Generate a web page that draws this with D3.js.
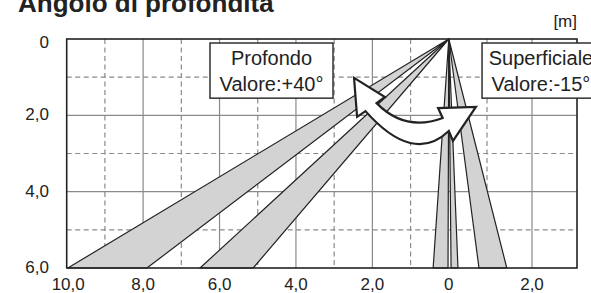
<!DOCTYPE html>
<html>
<head>
<meta charset="utf-8">
<script src="https://cdn.jsdelivr.net/npm/d3@7"></script>
<style>
  html, body { margin: 0; padding: 0; background: #fff; }
  svg { display: block; font-family: "Liberation Sans", Arial, sans-serif; }
</style>
</head>
<body>
<script>
// ---- data ----
const title = "Angolo di profondità";
const unitLabel = "[m]";
const xTickValues = [-10, -8, -6, -4, -2, 0, 2];
const xTickLabels = ["10,0", "8,0", "6,0", "4,0", "2,0", "0", "2,0"];
const yTickValues = [0, 2, 4, 6];
const yTickLabels = ["0", "2,0", "4,0", "6,0"];
const xGrid = [-9, -8, -7, -6, -5, -4, -3, -2, -1, 1, 2];
const yGrid = [1, 2, 3, 4, 5];
const beamDepth = 6;
// beam edges (horizontal distance in m at 6 m depth), apex at (0,0)
const beamsDeep = [[-9.97, -7.90], [-6.51, -5.12]];
const beamsShallow = [[-0.41, -0.02], [0.06, 0.24], [0.79, 1.44]];
const boxDeep = { x0: -6.25, x1: -3.03, y0: 0.105, y1: 1.55, lines: ["Profondo", "Valore:+40°"] };
const boxShallow = { x0: 0.87, x1: 3.51, y0: 0.105, y1: 1.55, lines: ["Superficiale", "Valore:-15°"] };
// curved double arrow outline (m)
const arrowTipL = [-2.48, 1.02], arrowBaseLOut = [-2.40, 2.04], arrowBaseLIn = [-1.67, 1.52];
const arrowNotchLIn = [-1.89, 1.68], arrowNotchLOut = [-2.18, 1.89];
const arrowCtrlIn = [-1.14, 2.44], arrowCtrlOut = [-0.93, 3.30];
const arrowNotchRIn = [-0.16, 2.07], arrowNotchROut = [0.00, 2.41];
const arrowBaseRIn = [-0.28, 1.81], arrowBaseROut = [0.11, 2.67], arrowTipR = [0.71, 1.78];

// ---- layout ----
const W = 591, H = 293;
const svg = d3.select("body").append("svg").attr("width", W).attr("height", H);

const x = d3.scaleLinear().domain([-10, 1, 3]).range([66.7, 487, 577]);
const y = d3.scaleLinear().domain([0, 6]).range([39, 268]);

const gridColor = "#8a8a8a";
const ink = "#222";

// grid
svg.append("g").selectAll("line").data(xGrid).join("line")
  .attr("x1", d => x(d)).attr("x2", d => x(d))
  .attr("y1", y(0)).attr("y2", y(6))
  .attr("stroke", gridColor).attr("stroke-width", 1.2)
  .attr("stroke-dasharray", d => (Math.abs(d) % 2 === 1 ? "5,3.5" : null));
svg.append("g").selectAll("line").data(yGrid).join("line")
  .attr("y1", d => y(d)).attr("y2", d => y(d))
  .attr("x1", x(-10)).attr("x2", x(3))
  .attr("stroke", gridColor).attr("stroke-width", 1.2)
  .attr("stroke-dasharray", d => (d % 2 === 1 ? "5,3.5" : null));

// beams
const beamPoly = b => [[x(0), y(0)], [x(b[0]), y(beamDepth)], [x(b[1]), y(beamDepth)]];
svg.append("g").selectAll("path").data(beamsDeep.concat(beamsShallow)).join("path")
  .attr("d", b => "M" + beamPoly(b).join("L") + "Z")
  .attr("fill", "#d3d3d3").attr("stroke", ink).attr("stroke-width", 1.2)
  .attr("stroke-linejoin", "round");

// frame
svg.append("rect")
  .attr("x", x(-10)).attr("y", y(0))
  .attr("width", x(3) - x(-10)).attr("height", y(6) - y(0))
  .attr("fill", "none").attr("stroke", ink).attr("stroke-width", 1.6);

// boxes
[boxDeep, boxShallow].forEach(b => {
  const g = svg.append("g");
  g.append("rect")
    .attr("x", x(b.x0)).attr("y", y(b.y0))
    .attr("width", x(b.x1) - x(b.x0)).attr("height", y(b.y1) - y(b.y0))
    .attr("fill", "#fff").attr("stroke", ink).attr("stroke-width", 1.4);
  const cx = (x(b.x0) + x(b.x1)) / 2;
  g.selectAll("text").data(b.lines).join("text")
    .attr("x", cx).attr("y", (d, i) => y(b.y0) + 22 + i * 26)
    .attr("text-anchor", "middle").attr("font-size", 20).attr("fill", ink)
    .text(d => d);
});

// arrow
const P = p => x(p[0]) + "," + y(p[1]);
const arrowD = "M" + P(arrowTipL) + "L" + P(arrowBaseLIn) + "L" + P(arrowNotchLIn) +
  "Q" + P(arrowCtrlIn) + " " + P(arrowNotchRIn) +
  "L" + P(arrowBaseRIn) + "L" + P(arrowTipR) + "L" + P(arrowBaseROut) + "L" + P(arrowNotchROut) +
  "Q" + P(arrowCtrlOut) + " " + P(arrowNotchLOut) +
  "L" + P(arrowBaseLOut) + "Z";
svg.append("path").attr("d", arrowD)
  .attr("fill", "#fff").attr("stroke", ink).attr("stroke-width", 2.2)
  .attr("stroke-linejoin", "miter");

// axis labels
svg.append("g").selectAll("text").data(xTickValues).join("text")
  .attr("x", d => x(d) + (d === -10 ? 1.5 : 0)).attr("y", 290)
  .attr("text-anchor", "middle").attr("font-size", 17).attr("fill", ink)
  .text((d, i) => xTickLabels[i]);
svg.append("g").selectAll("text").data(yTickValues).join("text")
  .attr("x", 49).attr("y", d => Math.max(y(d) + 5, 48))
  .attr("text-anchor", "end").attr("font-size", 17).attr("fill", ink)
  .text((d, i) => yTickLabels[i]);

// title & unit
svg.append("text").attr("x", 18).attr("y", 12)
  .attr("font-size", 26).attr("font-weight", "bold").attr("fill", ink).text(title);
svg.append("text").attr("x", 577).attr("y", 27).attr("text-anchor", "end")
  .attr("font-size", 17).attr("fill", ink).text(unitLabel);
</script>
</body>
</html>
